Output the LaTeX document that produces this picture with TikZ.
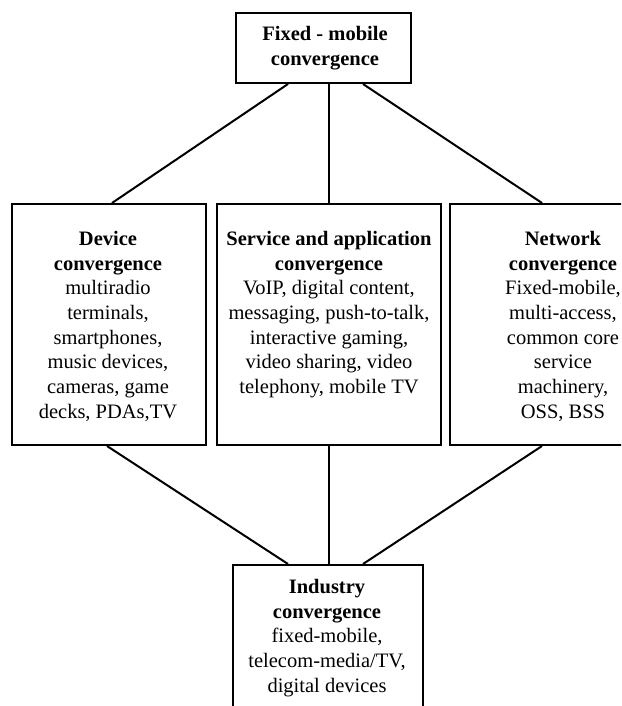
\documentclass[tikz,border=0pt]{standalone}
\usepackage{fontspec}
\setmainfont{Liberation Serif}
\usetikzlibrary{calc}
\begin{document}
\begin{tikzpicture}[x=1pt,y=-1pt,
  box/.style={draw,line width=2pt,inner sep=0pt},
  conn/.style={line width=2pt},
  txt/.style={align=center,inner sep=0pt,anchor=north,font=\fontsize{20.5}{24.7}\selectfont}]
\useasboundingbox (0,0) rectangle (621,706);
\clip (0,0) rectangle (621,706);
% boxes
\node[box,minimum width=175pt,minimum height=70pt] (fmc) at (323.5,48) {};
\node[box,minimum width=194pt,minimum height=241pt] (dev) at (109,324.5) {};
\node[box,minimum width=224pt,minimum height=241pt] (svc) at (329,324.5) {};
\node[box,minimum width=200pt,minimum height=241pt] (net) at (550,324.5) {};
\node[box,minimum width=190pt,minimum height=180pt] (ind) at (328,655) {};
% texts
\node[txt] (fmct) at (325,26) {\textbf{Fixed - mobile}\\\textbf{convergence}};
\node[txt] (devt) at (108,231) {\textbf{Device}\\\textbf{convergence}\\multiradio\\terminals,\\smartphones,\\music devices,\\cameras, game\\decks, PDAs,TV};
\node[txt] (svct) at (329,231) {\textbf{Service and application}\\\textbf{convergence}\\VoIP, digital content,\\messaging, push-to-talk,\\interactive gaming,\\video sharing, video\\telephony, mobile TV};
\node[txt] (nett) at (563,231) {\textbf{Network}\\\textbf{convergence}\\Fixed-mobile,\\multi-access,\\common core\\service\\machinery,\\OSS, BSS};
\node[txt] (indt) at (327,579) {\textbf{Industry}\\\textbf{convergence}\\fixed-mobile,\\telecom-media/TV,\\digital devices};
% connectors
\draw[conn] ($(fmc.south)+(-35.5,0)$) -- ($(dev.north)+(3,0)$);
\draw[conn] (svc.north |- fmc.south) -- (svc.north);
\draw[conn] ($(fmc.south)+(39.5,0)$) -- ($(net.north)+(-8,0)$);
\draw[conn] ($(dev.south)+(-2,0)$) -- ($(ind.north)+(-40,0)$);
\draw[conn] (svc.south) -- (svc.south |- ind.north);
\draw[conn] ($(net.south)+(-8,0)$) -- ($(ind.north)+(35,0)$);
\end{tikzpicture}
\end{document}
